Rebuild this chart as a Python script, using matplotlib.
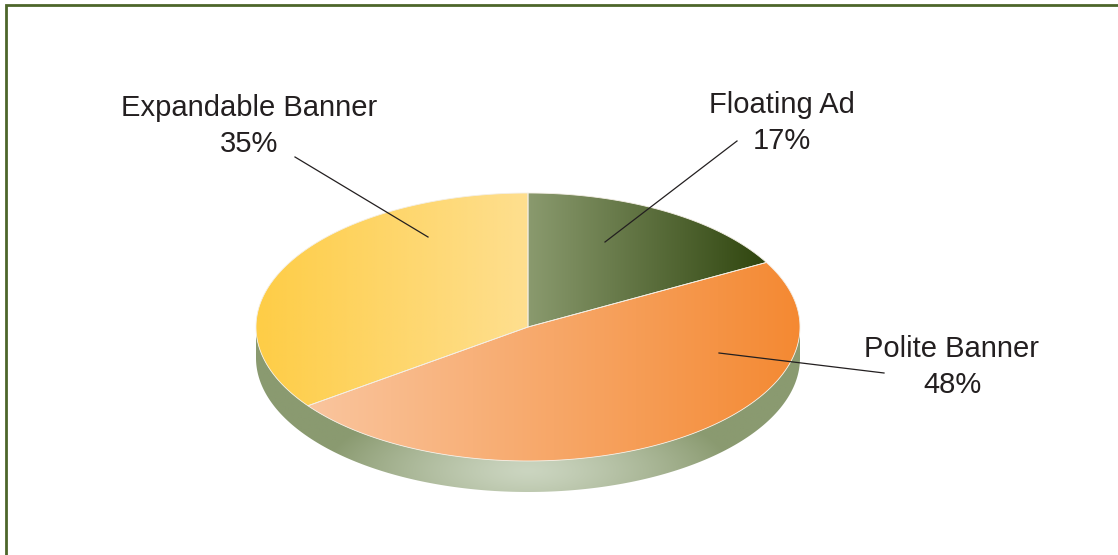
import numpy as np
import matplotlib
matplotlib.use("Agg")
import matplotlib.pyplot as plt
from matplotlib.patches import Polygon
from matplotlib.colors import to_rgb

# Ad format shares (percent), clockwise from 12 o'clock
labels = ["Floating Ad", "Polite Banner", "Expandable Banner"]
shares = [17, 48, 35]

# left/right gradient colours of each top face
grad_left = ["#8a9a6e", "#fac59e", "#fecd46"]
grad_right = ["#2f450e", "#f48932", "#fedf8f"]

# label placement: centre x, first baseline y; leader line start (text) and end (slice)
label_pos = [(782, 113), (952, 357), (249, 116)]
leader_from = [(737, 141), (884, 373), (295, 157)]
leader_to = [(605, 242), (719, 353), (428, 237)]

# ellipse geometry in pixels
cx, cy, rx, ry, depth = 528, 327, 272, 134, 31

W, H = 1118, 555
fig = plt.figure(figsize=(W / 100, H / 100), dpi=100)
ax = fig.add_axes([0, 0, 1, 1])
ax.set_xlim(0, W)
ax.set_ylim(H, 0)
ax.axis("off")


def pt(t):
    t = np.radians(t)
    return cx + rx * np.cos(t), cy - ry * np.sin(t)


def hgrad(c0, c1, n=256):
    a = np.array(to_rgb(c0))
    b = np.array(to_rgb(c1))
    f = np.linspace(0, 1, n)[:, None]
    return (a + (b - a) * f)[None, :, :]


# side wall (front half of the disc)
t = np.linspace(180, 360, 200)
tx, ty = pt(t)
side = np.vstack([np.column_stack([tx, ty]),
                  np.column_stack([tx[::-1], ty[::-1] + depth])])
side_patch = Polygon(side, closed=True, facecolor="none", edgecolor="none")
ax.add_patch(side_patch)
xs = np.linspace(cx - rx, cx + rx, 400)
ys = np.linspace(cy, cy + ry + depth, 120)
XX, YY = np.meshgrid(xs, ys)
d = np.sqrt(((XX - cx) / (rx * 0.75)) ** 2 + ((YY - (cy + ry + 10)) / (ry * 0.55)) ** 2)
d = np.clip(d, 0, 1) ** 1.3
edge = np.array(to_rgb("#8a9a70"))
mid = np.array(to_rgb("#cbd5c0"))
img = mid + (edge - mid) * d[..., None]
im = ax.imshow(img, extent=(cx - rx, cx + rx, cy + ry + depth, cy), origin="upper",
               aspect="auto", interpolation="bilinear", zorder=1)
im.set_clip_path(side_patch)

# top faces with horizontal gradients
start = 90.0
for i, s in enumerate(shares):
    end = start - s * 3.6
    tt = np.linspace(start, end, 200)
    px, py = pt(tt)
    verts = np.vstack([[cx, cy], np.column_stack([px, py])])
    poly = Polygon(verts, closed=True, facecolor="none", edgecolor="#f4efe6",
                   linewidth=0.6, zorder=3)
    ax.add_patch(poly)
    x0, x1 = verts[:, 0].min(), verts[:, 0].max()
    y0, y1 = verts[:, 1].min(), verts[:, 1].max()
    im = ax.imshow(hgrad(grad_left[i], grad_right[i]), extent=(x0, x1, y1, y0),
                   origin="upper", aspect="auto", interpolation="bilinear", zorder=2)
    im.set_clip_path(poly)
    start = end

# labels and leader lines
for i, name in enumerate(labels):
    x, y = label_pos[i]
    ax.text(x, y, name, ha="center", va="baseline", fontsize=21,
            family="Liberation Sans", color="#231f20", zorder=5)
    ax.text(x, y + 36, f"{shares[i]}%", ha="center", va="baseline", fontsize=21,
            family="Liberation Sans", color="#231f20", zorder=5)
    (a, b), (c, e) = leader_from[i], leader_to[i]
    ax.plot([a, c], [b, e], color="#231f20", lw=0.9, zorder=6)

# olive frame along top and left edge
ax.plot([5.5, 5.5, W + 10], [H + 10, 4.5, 4.5], color="#4d662a", lw=2.0,
        solid_joinstyle="miter", zorder=7)

fig.savefig("out.png", dpi=100)
